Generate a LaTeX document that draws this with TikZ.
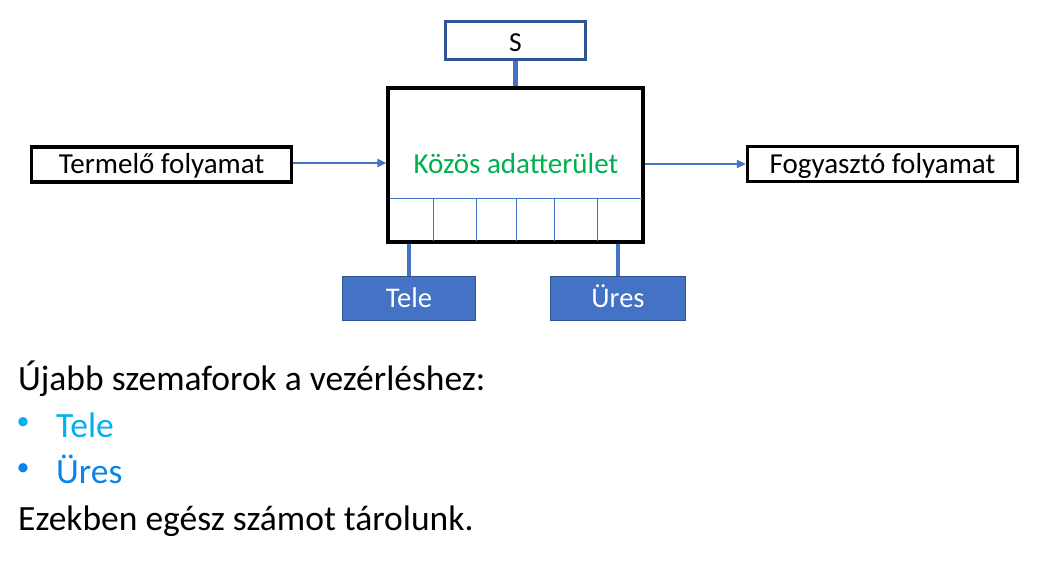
\documentclass[tikz,border=0pt]{standalone}
\usepackage{fontspec}
\setmainfont{Carlito}
\usetikzlibrary{arrows.meta}
\definecolor{accblue}{HTML}{4472C4}
\definecolor{darkblue}{HTML}{2F5597}
\definecolor{boxedge}{HTML}{2F528F}
\definecolor{kgreen}{HTML}{00B050}
\definecolor{telec}{HTML}{00B0F0}
\definecolor{uresc}{HTML}{0A84E8}
\tikzset{
  procbox/.style={draw=black, line width=3.4pt, inner sep=0pt, font=\fontsize{29}{32}\selectfont, text height=18.7pt, text depth=0pt},
  sembox/.style={draw=boxedge, line width=1.5pt, fill=accblue, text=white, inner sep=0pt, font=\fontsize{28.5}{32}\selectfont, text height=18.3pt, text depth=0pt},
  conn/.style={accblue, line width=4.4pt},
  flow/.style={accblue, line width=2.8pt, -{Triangle[length=9pt,width=8pt]}},
  gridline/.style={accblue, line width=0.9pt},
  bigtext/.style={anchor=base west, inner sep=0pt, font=\fontsize{35.5}{40}\selectfont}
}
\begin{document}
\begin{tikzpicture}[x=1pt, y=-1pt]
\useasboundingbox (0,0) rectangle (1038,580);
% main shared area
\node[draw=black, line width=3.2pt, minimum width=255pt, minimum height=154pt, inner sep=0pt] (main) at (515.5,165) {};
\node[text=kgreen, font=\fontsize{29}{32}\selectfont, text height=18.7pt, text depth=0pt, inner sep=0pt] (kozos) at (516,164) {Közös adatterület};
% grid in the buffer
\coordinate (gl) at (389.5,198);
\coordinate (gr) at (641.5,198);
\draw[gridline] (gl) -- (gr);
\foreach \xx in {433,476,516,554,597} {
  \draw[gridline] (\xx,198) -- (\xx,240.5);
}
% S semaphore
\node[draw=darkblue, line width=3pt, fill=white, minimum width=140pt, minimum height=38pt, inner sep=0pt] (sbox) at (515.5,41) {};
\node[font=\fontsize{27.5}{30}\selectfont, text height=17.6pt, text depth=0pt, inner sep=0pt] (stext) at (515.5,43) {S};
\draw[conn] (sbox.south) -- (main.north);
% processes
\node[procbox, minimum width=260pt, minimum height=35pt] (prod) at (161.5,164.5) {Termelő folyamat};
\node[procbox, minimum width=270pt, minimum height=35pt] (cons) at (882.5,164) {Fogyasztó folyamat};
\draw[flow] (prod.east |- 0,163) -- (main.west |- 0,163);
\draw[flow] (main.east |- 0,164) -- (cons.west |- 0,164);
% Tele and Ures semaphores
\node[sembox, minimum width=133pt, minimum height=44pt] (tele) at (409,298.5) {Tele};
\node[sembox, minimum width=135pt, minimum height=44pt] (ures) at (618,298.5) {Üres};
\draw[conn] (main.south -| tele.north) -- (tele.north);
\draw[conn] (main.south -| ures.north) -- (ures.north);
% text below
\node[bigtext] (t1) at (18,390) {Újabb szemaforok a vezérléshez:};
\node[text=telec, inner sep=0pt, font=\fontsize{26}{30}\selectfont] (b1) at (23,424) {•};
\node[bigtext, text=telec] (t2) at (56,437) {Tele};
\node[text=uresc, inner sep=0pt, font=\fontsize{26}{30}\selectfont] (b2) at (23,470) {•};
\node[bigtext, text=uresc] (t3) at (56,483) {Üres};
\node[bigtext] (t4) at (18,530) {Ezekben egész számot tárolunk.};
\end{tikzpicture}
\end{document}
